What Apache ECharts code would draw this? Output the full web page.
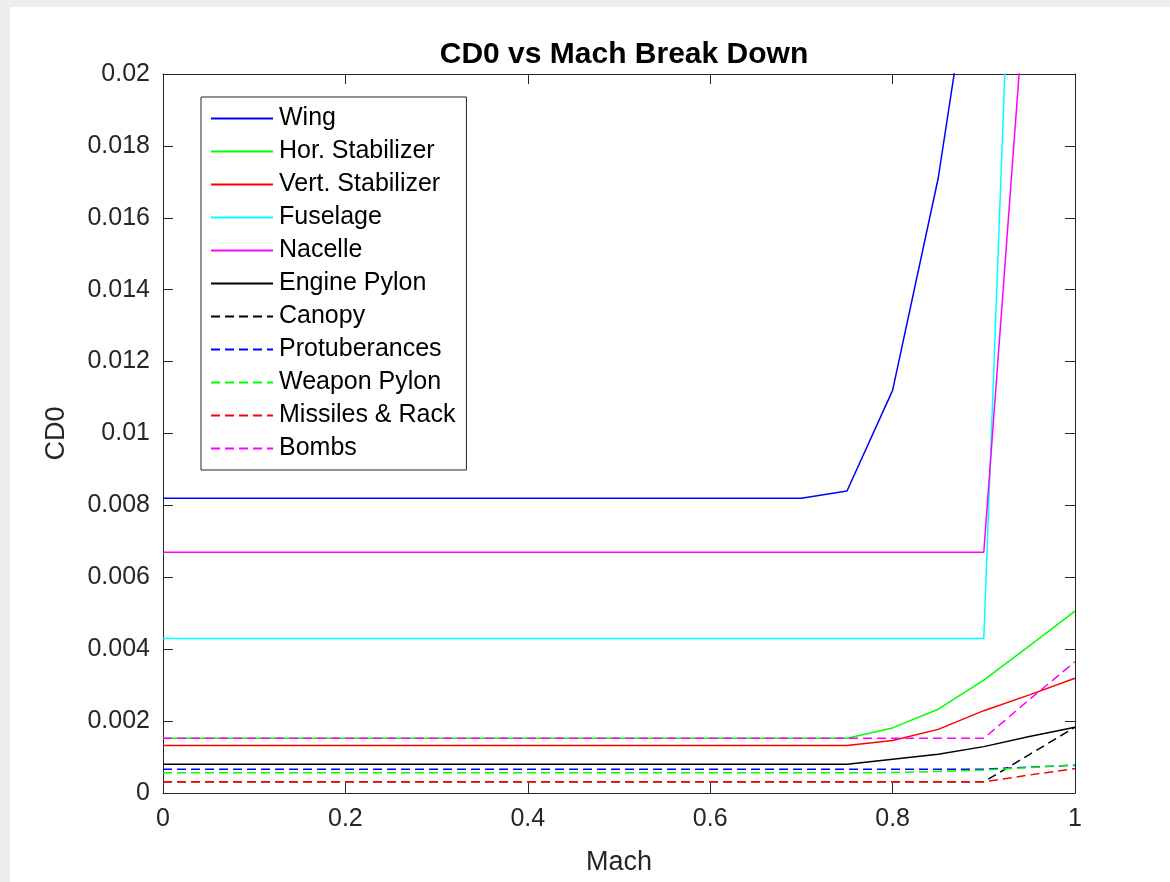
<!DOCTYPE html>
<html>
<head>
<meta charset="utf-8">
<title>CD0 vs Mach Break Down</title>
<script src="https://cdn.jsdelivr.net/npm/echarts@6/dist/echarts.min.js"></script>
<style>
  html, body { margin: 0; padding: 0; background: #ffffff; }
  #chart { width: 1170px; height: 882px; }
</style>
</head>
<body>
<div id="chart"></div>
<script>
// Mach sample points
const mach = [0, 0.7, 0.75, 0.8, 0.85, 0.9, 0.95, 1.0];

// Zero-lift drag coefficient build-up per component
const wing          = [0.0082, 0.0082, 0.0084, 0.0112, 0.0171, 0.0254, 0.0340, 0.0430];
const horStab       = [0.00152, 0.00152, 0.00152, 0.00181, 0.00233, 0.00314, 0.00409, 0.00506];
const vertStab      = [0.00132, 0.00132, 0.00132, 0.00146, 0.00177, 0.00229, 0.00273, 0.00319];
const fuselage      = [0.0043, 0.0043, 0.0043, 0.0043, 0.0043, 0.0043, 0.0384, 0.0600];
const nacelle       = [0.0067, 0.0067, 0.0067, 0.0067, 0.0067, 0.0067, 0.0239, 0.0400];
const enginePylon   = [0.0008, 0.0008, 0.0008, 0.00094, 0.00108, 0.00129, 0.00157, 0.00183];
const canopy        = [0.00031, 0.00031, 0.00031, 0.00031, 0.00031, 0.00031, 0.00107, 0.00183];
const protuberances = [0.00066, 0.00066, 0.00066, 0.00066, 0.00066, 0.00066, 0.00072, 0.00077];
const weaponPylon   = [0.00056, 0.00056, 0.00056, 0.00057, 0.00060, 0.00064, 0.00071, 0.00078];
const missilesRack  = [0.00031, 0.00031, 0.00031, 0.00031, 0.00031, 0.00031, 0.00050, 0.00068];
const bombs         = [0.00152, 0.00152, 0.00152, 0.00152, 0.00152, 0.00152, 0.00260, 0.00365];

// Axis ticks
const xTicks = { min: 0, max: 1, interval: 0.2 };
const yTicks = { min: 0, max: 0.02, interval: 0.002 };

const components = [
  { name: 'Wing',             data: wing,          color: '#0000ff', dashed: false },
  { name: 'Hor. Stabilizer',  data: horStab,       color: '#00ff00', dashed: false },
  { name: 'Vert. Stabilizer', data: vertStab,      color: '#ff0000', dashed: false },
  { name: 'Fuselage',         data: fuselage,      color: '#00ffff', dashed: false },
  { name: 'Nacelle',          data: nacelle,       color: '#ff00ff', dashed: false },
  { name: 'Engine Pylon',     data: enginePylon,   color: '#000000', dashed: false },
  { name: 'Canopy',           data: canopy,        color: '#000000', dashed: true },
  { name: 'Protuberances',    data: protuberances, color: '#0000ff', dashed: true },
  { name: 'Weapon Pylon',     data: weaponPylon,   color: '#00ff00', dashed: true },
  { name: 'Missiles & Rack',  data: missilesRack,  color: '#ff0000', dashed: true },
  { name: 'Bombs',            data: bombs,         color: '#ff00ff', dashed: true }
];

const FONT = "'Liberation Sans', Arial, Helvetica, sans-serif";
const AXIS_COLOR = '#262626';
const fmt = v => String(+Number(v).toFixed(4));

const chart = echarts.init(document.getElementById('chart'), null, { renderer: 'canvas' });

// Box edges: every axis keeps its line on its own side of the plot
const tickOnly = {
  axisLine: { show: true, onZero: false, lineStyle: { color: AXIS_COLOR, width: 1 } },
  axisTick: { show: true, inside: true, length: 10, lineStyle: { color: AXIS_COLOR, width: 1 } },
  axisLabel: { show: false },
  splitLine: { show: false }
};

chart.setOption({
  backgroundColor: '#ffffff',
  animation: false,
  graphic: [
    { type: 'rect', shape: { x: 0, y: 0, width: 1170, height: 7 }, style: { fill: '#ededed' }, silent: true },
    { type: 'rect', shape: { x: 0, y: 0, width: 10, height: 882 }, style: { fill: '#ededed' }, silent: true }
  ],
  title: {
    text: 'CD0 vs Mach Break Down',
    left: 619,
    textAlign: 'center',
    top: 35,
    textStyle: { fontFamily: FONT, fontWeight: 'bold', fontSize: 30, color: '#000000' }
  },
  grid: { left: 163, top: 74, right: 95, bottom: 89, containLabel: false },
  legend: {
    orient: 'vertical',
    left: 201,
    top: 97,
    backgroundColor: '#ffffff',
    borderColor: AXIS_COLOR,
    borderWidth: 1,
    borderRadius: 0,
    padding: [9, 11, 9, 9],
    itemWidth: 62,
    itemHeight: 12,
    itemGap: 8,
    itemStyle: { color: 'rgba(0,0,0,0)', borderWidth: 0, opacity: 0 },
    textStyle: { fontFamily: FONT, fontSize: 25, color: '#000000', lineHeight: 25, padding: [0, 0, 0, 1] },
    data: components.map(c => c.name)
  },
  xAxis: [
    Object.assign({
      type: 'value',
      position: 'bottom',
      name: 'Mach',
      nameLocation: 'middle',
      nameGap: 56,
      nameTextStyle: { fontFamily: FONT, fontSize: 27, color: AXIS_COLOR }
    }, xTicks, tickOnly, {
      axisLabel: { show: true, margin: 14, fontFamily: FONT, fontSize: 25, color: AXIS_COLOR, formatter: fmt }
    }),
    Object.assign({ type: 'value', position: 'top' }, xTicks, tickOnly)
  ],
  yAxis: [
    Object.assign({
      type: 'value',
      position: 'left',
      name: 'CD0',
      nameLocation: 'middle',
      nameGap: 93,
      nameRotate: 90,
      nameTextStyle: { fontFamily: FONT, fontSize: 27, color: AXIS_COLOR }
    }, yTicks, tickOnly, {
      axisLabel: { show: true, margin: 13, fontFamily: FONT, fontSize: 25, color: AXIS_COLOR, formatter: fmt }
    }),
    Object.assign({ type: 'value', position: 'right' }, yTicks, tickOnly)
  ],
  series: components.map(c => ({
    name: c.name,
    type: 'line',
    xAxisIndex: 0,
    yAxisIndex: 0,
    data: mach.map((m, i) => [m, c.data[i]]),
    symbol: 'none',
    clip: true,
    color: c.color,
    lineStyle: { color: c.color, width: 1.5, type: c.dashed ? [9, 5] : 'solid' },
    emphasis: { disabled: true }
  }))
});
</script>
</body>
</html>
